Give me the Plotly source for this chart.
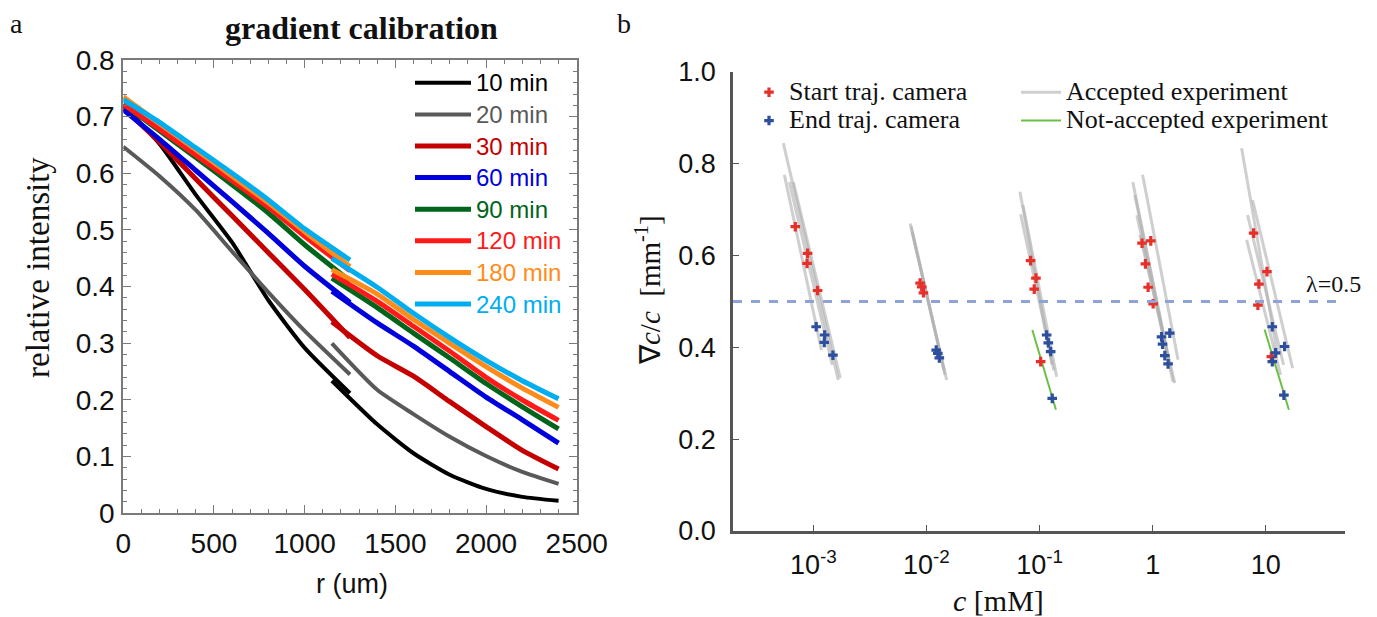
import plotly.graph_objects as go

W, H = 1377, 617

# ---------------- Panel a : gradient calibration ----------------
r_seg1 = [0, 200, 400, 600, 800, 1000, 1250]
r_seg2 = [1150, 1400, 1600, 1800, 2000, 2200, 2400]
series_names = ["10 min", "20 min", "30 min", "60 min", "90 min", "120 min", "180 min", "240 min"]
i10_seg1 = [0.720, 0.652, 0.562, 0.478, 0.376, 0.292, 0.212]
i10_seg2 = [0.234, 0.157, 0.106, 0.068, 0.043, 0.029, 0.022]
i20_seg1 = [0.647, 0.595, 0.535, 0.462, 0.390, 0.322, 0.245]
i20_seg2 = [0.300, 0.218, 0.175, 0.135, 0.101, 0.073, 0.052]
i30_seg1 = [0.715, 0.655, 0.590, 0.525, 0.460, 0.395, 0.310]
i30_seg2 = [0.338, 0.278, 0.242, 0.197, 0.153, 0.111, 0.078]
i60_seg1 = [0.712, 0.660, 0.605, 0.550, 0.494, 0.436, 0.372]
i60_seg2 = [0.392, 0.336, 0.295, 0.250, 0.205, 0.165, 0.124]
i90_seg1 = [0.722, 0.675, 0.628, 0.580, 0.530, 0.474, 0.410]
i90_seg2 = [0.415, 0.363, 0.318, 0.274, 0.229, 0.188, 0.149]
i120_seg1 = [0.722, 0.678, 0.632, 0.587, 0.540, 0.489, 0.428]
i120_seg2 = [0.422, 0.374, 0.330, 0.286, 0.240, 0.200, 0.164]
i180_seg1 = [0.735, 0.688, 0.642, 0.595, 0.548, 0.497, 0.435]
i180_seg2 = [0.430, 0.387, 0.342, 0.300, 0.259, 0.221, 0.187]
i240_seg1 = [0.730, 0.690, 0.645, 0.600, 0.553, 0.502, 0.447]
i240_seg2 = [0.450, 0.399, 0.353, 0.310, 0.270, 0.234, 0.202]

seg1_values = [i10_seg1, i20_seg1, i30_seg1, i60_seg1, i90_seg1, i120_seg1, i180_seg1, i240_seg1]
seg2_values = [i10_seg2, i20_seg2, i30_seg2, i60_seg2, i90_seg2, i120_seg2, i180_seg2, i240_seg2]
a_colors = ["#000000", "#595959", "#c40000", "#0000dd", "#00641a", "#ff1a1a", "#ff8c1a", "#00aeef"]
a_widths = [4, 4, 5, 5, 5, 5, 5, 5]

# ---------------- Panel b : gradient ratio vs concentration ----------------
# each experiment: line ends (top/bottom), start & end points, accepted flag
exp_top_c = [5.55e-4, 5.43e-4, 6.14e-4, 6.66e-4,
             7.18e-3, 7.48e-3, 7.33e-3,
             6.71e-2, 7.13e-2, 6.80e-2, 8.63e-2,
             0.667, 0.814, 0.695, 0.724, 0.770,
             6.11, 7.64, 6.90, 6.77, 9.75]
exp_top_g = [0.776, 0.845, 0.760, 0.760,
             0.670, 0.651, 0.664,
             0.739, 0.710, 0.690, 0.438,
             0.760, 0.776, 0.732, 0.688, 0.645,
             0.834, 0.721, 0.688, 0.634, 0.439]
exp_bot_c = [1.18e-3, 1.66e-3, 1.47e-3, 1.73e-3,
             1.43e-2, 1.51e-2, 1.46e-2,
             0.1285, 0.1416, 0.134, 0.1396,
             1.358, 1.675, 1.416, 1.515, 1.567,
             12.71, 17.26, 14.35, 13.52, 16.0]
exp_bot_g = [0.394, 0.329, 0.362, 0.333,
             0.351, 0.329, 0.340,
             0.362, 0.336, 0.350, 0.264,
             0.383, 0.373, 0.362, 0.325, 0.322,
             0.383, 0.355, 0.362, 0.340, 0.264]
start_c = [6.93e-4, 8.9e-4, 8.8e-4, 1.09e-3,
           8.79e-3, 9.41e-3, 9.08e-3,
           8.33e-2, 9.29e-2, 8.97e-2, 0.1023,
           0.805, 0.962, 0.863, 0.911, 1.009,
           7.80, 10.23, 8.69, 8.51, 11.19]
start_g = [0.663, 0.605, 0.583, 0.524,
           0.540, 0.519, 0.532,
           0.589, 0.551, 0.527, 0.369,
           0.627, 0.632, 0.582, 0.531, 0.495,
           0.649, 0.565, 0.538, 0.492, 0.380]
end_c = [1.06e-3, 1.26e-3, 1.25e-3, 1.49e-3,
         1.22e-2, 1.30e-2, 1.26e-2,
         0.1155, 0.1194, 0.1254, 0.1294,
         1.197, 1.416, 1.222, 1.280, 1.368,
         11.41, 14.65, 12.22, 11.41, 14.45]
end_g = [0.445, 0.427, 0.411, 0.383,
         0.394, 0.377, 0.387,
         0.427, 0.410, 0.391, 0.289,
         0.423, 0.431, 0.407, 0.382, 0.364,
         0.445, 0.402, 0.388, 0.369, 0.296]
accepted = [True, True, True, True,
            True, True, True,
            True, True, True, False,
            True, True, True, True, True,
            True, True, True, True, False]
lambda_value = 0.5
b_tickvals = [1e-3, 1e-2, 1e-1, 1, 10]
b_ticktext = ["10<sup>-3</sup>", "10<sup>-2</sup>", "10<sup>-1</sup>", "1", "10"]

SERIF = "Liberation Serif"
SANS = "Liberation Sans"


def px(x):
    return x / W


def py(y):
    return 1 - y / H


fig = go.Figure()

for name, col, w, s1, s2 in zip(series_names, a_colors, a_widths, seg1_values, seg2_values):
    fig.add_trace(go.Scatter(
        x=r_seg1 + [None] + r_seg2, y=s1 + [None] + s2, mode="lines",
        line=dict(color=col, width=w, shape="spline", smoothing=0.6),
        name='<span style="color:%s;font-size:24px">%s</span>' % (col, name),
        xaxis="x", yaxis="y", legend="legend"))

acc_x, acc_y, rej_x, rej_y = [], [], [], []
for i in range(len(exp_top_c)):
    if accepted[i]:
        acc_x += [exp_top_c[i], exp_bot_c[i], None]
        acc_y += [exp_top_g[i], exp_bot_g[i], None]
    else:
        rej_x += [exp_top_c[i], exp_bot_c[i], None]
        rej_y += [exp_top_g[i], exp_bot_g[i], None]

LEG_B = '<span style="font-size:26px">%s</span>'
fig.add_trace(go.Scatter(x=acc_x, y=acc_y, mode="lines",
                         line=dict(color="rgba(175,175,175,0.6)", width=3),
                         name=LEG_B % "Accepted experiment", xaxis="x2", yaxis="y2", legend="legend3"))
fig.add_trace(go.Scatter(x=rej_x, y=rej_y, mode="lines",
                         line=dict(color="#6cbf45", width=2),
                         name=LEG_B % "Not-accepted experiment", xaxis="x2", yaxis="y2", legend="legend3"))
fig.add_trace(go.Scatter(x=start_c, y=start_g, mode="markers",
                         marker=dict(symbol="cross", size=8, color="#e8302a"),
                         name=LEG_B % "Start traj. camera", xaxis="x2", yaxis="y2", legend="legend2"))
fig.add_trace(go.Scatter(x=end_c, y=end_g, mode="markers",
                         marker=dict(symbol="cross", size=8, color="#2d4f9e"),
                         name=LEG_B % "End traj. camera", xaxis="x2", yaxis="y2", legend="legend2"))

GRAY_A = "#7a7a7a"
frame_common = dict(showline=True, linecolor=GRAY_A, linewidth=2, ticks="inside", ticklen=8,
                    tickcolor=GRAY_A, showgrid=False, zeroline=False, mirror="ticks",
                    automargin=False, tickfont=dict(family=SANS, size=28, color="#111"))

fig.update_layout(
    width=W, height=H, margin=dict(l=0, r=0, t=0, b=0, autoexpand=False),
    paper_bgcolor="white", plot_bgcolor="white",
    xaxis=dict(domain=[px(123.3), px(576.7)], anchor="y", ticklabelstandoff=4,
               range=[0, 2500], dtick=500, tick0=0,
               minor=dict(dtick=100, ticks="inside", ticklen=4, tickcolor=GRAY_A),
               **frame_common),
    yaxis=dict(domain=[1 - 513.3 / H, 1 - 60 / H], anchor="x", ticklabelstandoff=1,
               range=[0, 0.8], dtick=0.1, tick0=0,
               minor=dict(dtick=0.02, ticks="inside", ticklen=4, tickcolor=GRAY_A),
               **frame_common),
    xaxis2=dict(domain=[px(733), px(1345)], type="log", range=[-3.71, 1.70], anchor="y2",
                showline=True, linecolor="#555", linewidth=2.5, ticks="inside", ticklen=6,
                tickcolor="#555", tickvals=b_tickvals, ticktext=b_ticktext, automargin=False,
                showgrid=False, zeroline=False, ticklabelstandoff=8,
                tickfont=dict(family=SANS, size=27, color="#111")),
    yaxis2=dict(domain=[1 - 531 / H, 1 - 72 / H], range=[0, 1], anchor="x2",
                showline=True, linecolor="#555", linewidth=2.5, ticks="inside", ticklen=6,
                tickcolor="#555", dtick=0.2, tickformat=".1f", automargin=False,
                showgrid=False, zeroline=False, ticklabelstandoff=9,
                tickfont=dict(family=SANS, size=27, color="#111")),
    legend=dict(x=px(410), y=py(62), xanchor="left", yanchor="top", bgcolor="rgba(0,0,0,0)",
                itemwidth=56, font=dict(family=SANS, size=22), tracegroupgap=0),
    legend2=dict(x=px(749), y=py(73), xanchor="left", yanchor="top", bgcolor="rgba(0,0,0,0)",
                 font=dict(family=SERIF, size=19.5, color="#111")),
    legend3=dict(x=px(1016), y=py(73), xanchor="left", yanchor="top", bgcolor="rgba(0,0,0,0)",
                 itemwidth=40, font=dict(family=SERIF, size=19.5, color="#111")),
    showlegend=True,
)

fig.add_shape(type="line", xref="x2 domain", yref="y2", x0=0, x1=1,
              y0=lambda_value, y1=lambda_value,
              line=dict(color="#8ea3d6", width=3, dash="9px,9px"))

ann = [
    dict(text="a", x=px(16), y=py(24), font=dict(family=SERIF, size=28)),
    dict(text="b", x=px(624), y=py(24), font=dict(family=SERIF, size=28)),
    dict(text="<b>gradient calibration</b>", x=px(361), y=py(28), font=dict(family=SERIF, size=32)),
    dict(text="relative intensity", x=px(38), y=py(268), textangle=-90, font=dict(family=SERIF, size=33)),
    dict(text="r (um)", x=px(352), y=py(584), font=dict(family=SANS, size=27)),
    dict(text="\u2207<i>c</i>/<i>c</i>  [mm<sup>-1</sup>]", x=px(648), y=py(290), textangle=-90,
         font=dict(family=SERIF, size=29)),
    dict(text="<i>c</i> [mM]", x=px(998), y=py(600), font=dict(family=SERIF, size=30)),
]
for a in ann:
    fig.add_annotation(xref="paper", yref="paper", showarrow=False, xanchor="center",
                       yanchor="middle", text=a["text"], x=a["x"], y=a["y"],
                       textangle=a.get("textangle", 0),
                       font=dict(color="#111", **a["font"]))

fig.add_annotation(xref="x2", yref="y2", x=1.598, y=lambda_value, text="\u03bb=0.5",
                   showarrow=False, xanchor="center", yanchor="bottom", yshift=3,
                   font=dict(family=SERIF, size=24, color="#111"))

fig.write_html("out.html", config={"displayModeBar": False},
               post_script="document.body.style.margin='0';document.body.style.overflow='hidden';")
